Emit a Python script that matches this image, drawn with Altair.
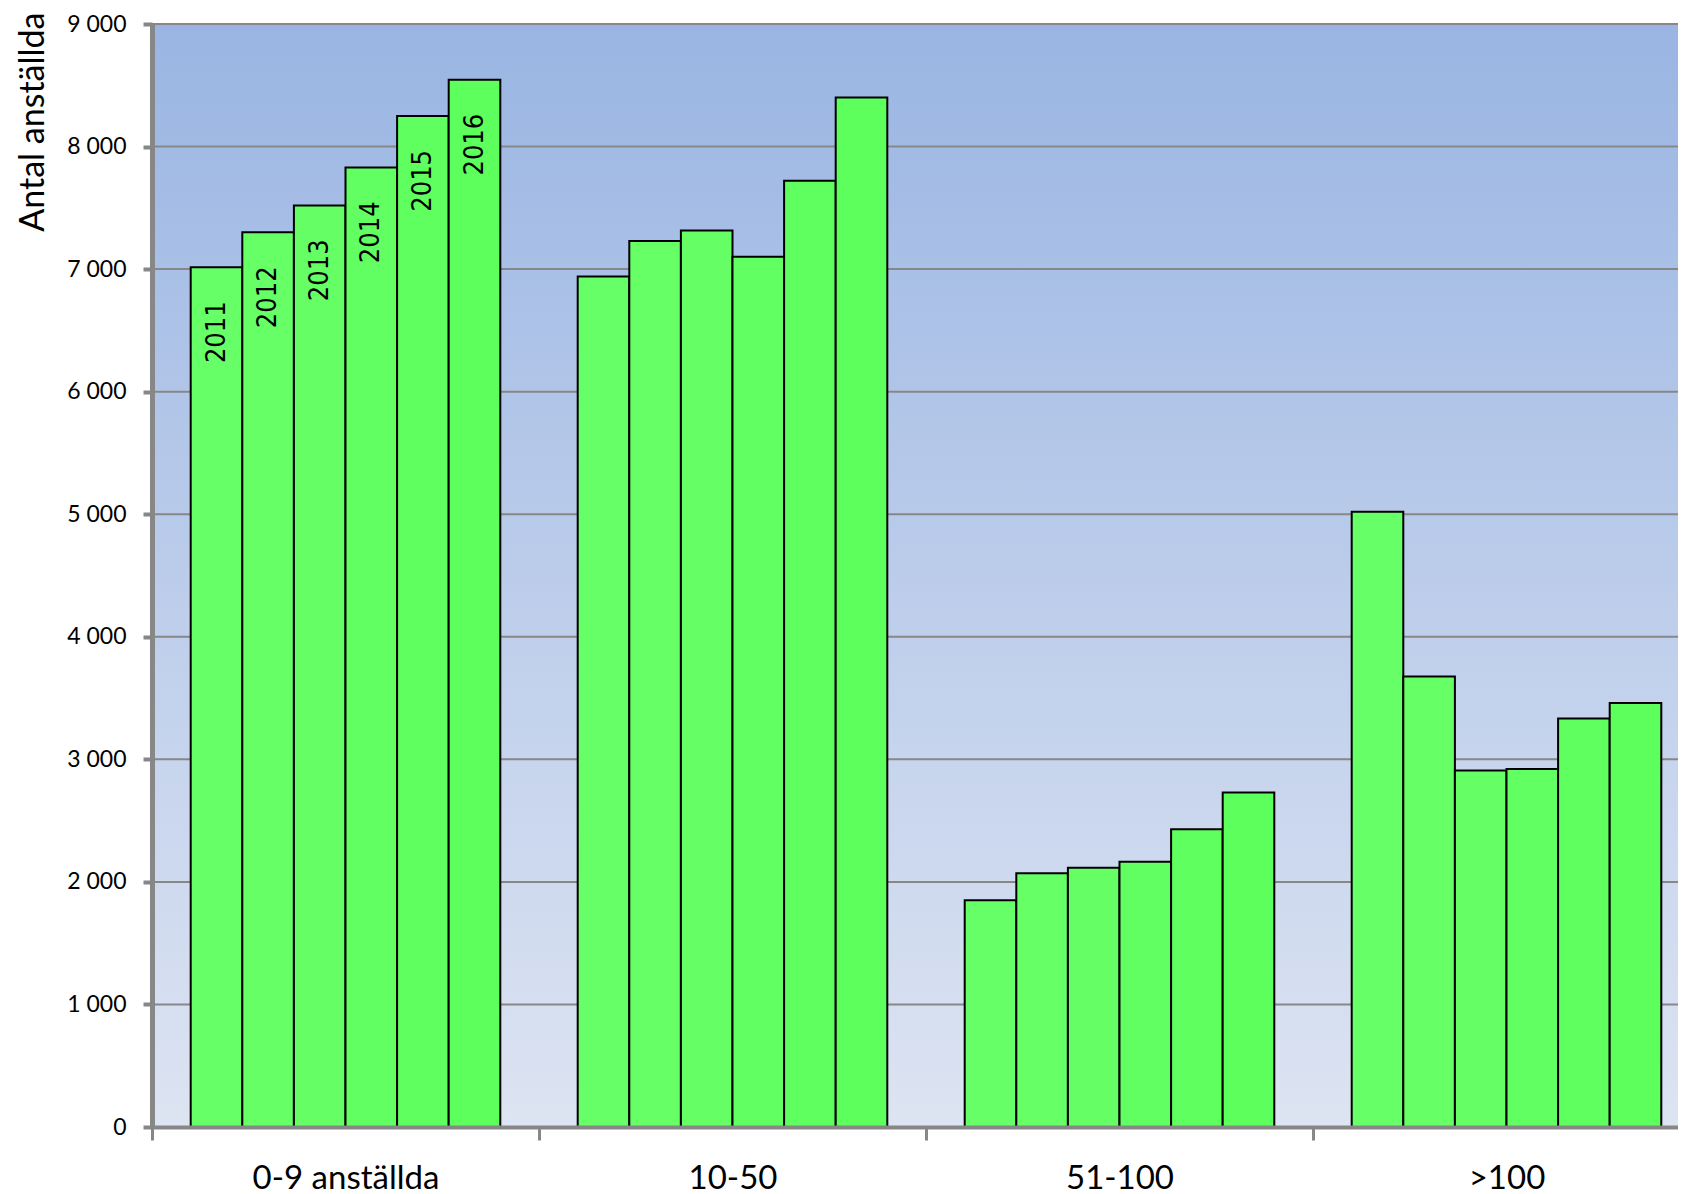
import altair as alt
import pandas as pd

groups = ["0-9 anställda", "10-50", "51-100", ">100"]
years = ["2011", "2012", "2013", "2014", "2015", "2016"]
vals_0_9 = [7015, 7300, 7520, 7830, 8250, 8545]
vals_10_50 = [6940, 7230, 7315, 7100, 7720, 8400]
vals_51_100 = [1850, 2070, 2115, 2165, 2430, 2730]
vals_100 = [5020, 3675, 2908, 2922, 3334, 3460]
y_ticks = [0, 1000, 2000, 3000, 4000, 5000, 6000, 7000, 8000, 9000]
label_group = "0-9 anställda"

series = [vals_0_9, vals_10_50, vals_51_100, vals_100]
rows = []
for g, vs in zip(groups, series):
    for yr, v in zip(years, vs):
        rows.append({"group": g, "year": yr, "value": v})
df = pd.DataFrame(rows)
grid_df = pd.DataFrame({"value": y_ticks})

grey = "#878787"
W, H = 1526, 1103
STEP = 1548 / 4

x_enc = alt.X(
    "group:N",
    sort=groups,
    scale=alt.Scale(domain=groups, range=[0, 1548], paddingInner=0.2, paddingOuter=0.1),
    axis=alt.Axis(
        title=None, labelAngle=0, labelFont="Lato", labelFontSize=33,
        labelColor="black", labelBaseline="alphabetic", labelPadding=48,
        labelLimit=0, labelOverlap=False,
        tickOffset=-STEP / 2, labelOffset=STEP / 2,
        tickSize=13, tickWidth=3, tickColor=grey,
        domainColor=grey, domainWidth=4, grid=False, zindex=1,
    ),
)
xo_enc = alt.XOffset("year:N", sort=years, scale=alt.Scale(paddingInner=0, paddingOuter=0))
y_enc = alt.Y(
    "value:Q",
    scale=alt.Scale(domain=[0, 9000], nice=False),
    axis=alt.Axis(
        values=y_ticks, title="Antal anställda",
        labelExpr="replace(format(datum.value, ','), ',', ' ')",
        labelFont="Lato", labelFontSize=23, labelColor="black", labelPadding=17,
        tickSize=9, tickWidth=4, tickColor=grey,
        domainColor=grey, domainWidth=5, grid=False, zindex=1,
        titleFont="Lato", titleFontSize=34, titleFontWeight="normal",
        titleColor="black", titleAngle=270, titleAlign="right",
        titleBaseline="alphabetic", titleX=-109, titleY=-12,
    ),
)

background = alt.Chart(pd.DataFrame({"k": [0]})).mark_rect(
    color=alt.LinearGradient(
        gradient="linear",
        stops=[alt.GradientStop(offset=0, color="#9AB5E3"), alt.GradientStop(offset=1, color="#DDE4F2")],
        x1=0, x2=0, y1=0, y2=1,
    )
).encode(
    x=alt.value(0), x2=alt.value(W), y=alt.value(0), y2=alt.value(H)
)

gridlines = alt.Chart(grid_df).mark_rule(color=grey, strokeWidth=2).encode(y=y_enc)

bars = alt.Chart(df).mark_bar(stroke="black", strokeWidth=2).encode(
    x=x_enc,
    xOffset=xo_enc,
    y=y_enc,
    color=alt.Color(
        "year:N", sort=years, legend=None,
        scale=alt.Scale(domain=years, range=["#67FF67", "#66FF66", "#65FF65", "#62FF62", "#5FFF5F", "#5CFF5C"]),
    ),
)

labels = alt.Chart(df).transform_filter(
    alt.datum.group == label_group
).mark_text(
    angle=270, align="right", baseline="middle", dx=-34,
    font="DejaVu Sans Condensed, Liberation Sans", fontSize=27, color="black",
).encode(
    x=x_enc,
    xOffset=xo_enc,
    y=y_enc,
    text="year:N",
)

chart = alt.layer(background, gridlines, bars, labels).properties(
    width=W, height=H,
    autosize=alt.AutoSizeParams(type="none"),
    padding={"left": 144, "top": 16, "right": 0, "bottom": 72},
).configure_view(stroke=None)

chart.save("out.html", embed_options={"renderer": "svg", "actions": False})
